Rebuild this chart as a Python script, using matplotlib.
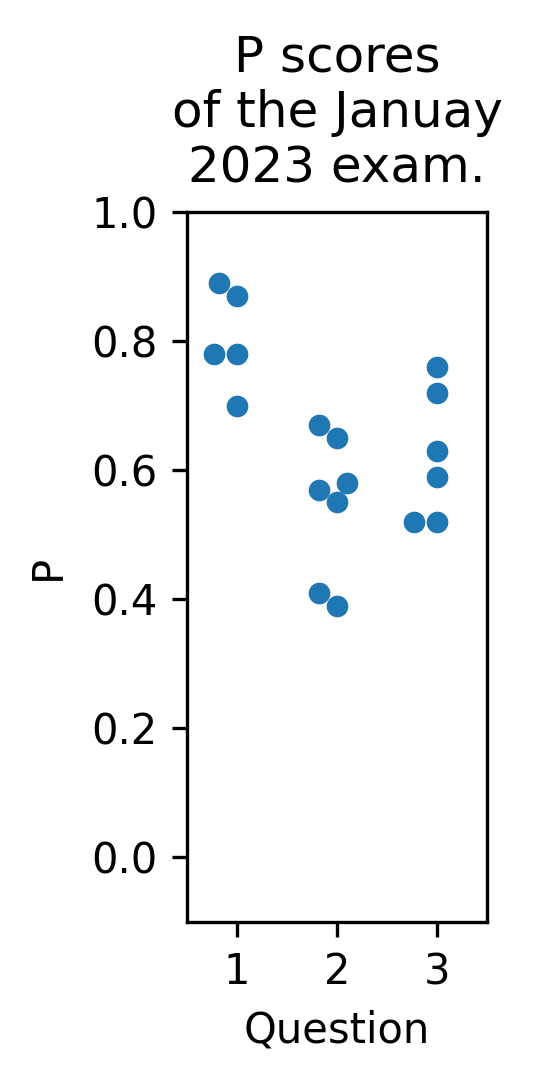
import numpy as np
import pandas as pd
import matplotlib
matplotlib.use('Agg')
import matplotlib.pyplot as plt
import seaborn as sns

# P scores per question
q1 = [0.89, 0.87, 0.78, 0.78, 0.70]
q2 = [0.67, 0.65, 0.58, 0.57, 0.55, 0.41, 0.39]
q3 = [0.76, 0.72, 0.63, 0.59, 0.52, 0.52]
questions = ['1', '2', '3']

df = pd.DataFrame({
    'Question': ['1'] * len(q1) + ['2'] * len(q2) + ['3'] * len(q3),
    'P': q1 + q2 + q3,
})

W, H, DPI = 538, 1084, 300
fig = plt.figure(figsize=(W / DPI, H / DPI), dpi=DPI)
ax = fig.add_axes([187 / W, (H - 922) / H, 300 / W, 710 / H])

sns.swarmplot(data=df, x='Question', y='P', order=questions, size=5.2, ax=ax)

ax.set_ylim(-0.1, 1.0)
ax.set_xlim(-0.5, 2.5)
ax.set_yticks([0.0, 0.2, 0.4, 0.6, 0.8, 1.0])
ax.set_title('P scores\nof the Januay\n2023 exam.', fontsize=12, pad=7)
ax.set_xlabel('Question')
ax.set_ylabel('P', labelpad=5.5)

fig.savefig('out.png', dpi=DPI)
